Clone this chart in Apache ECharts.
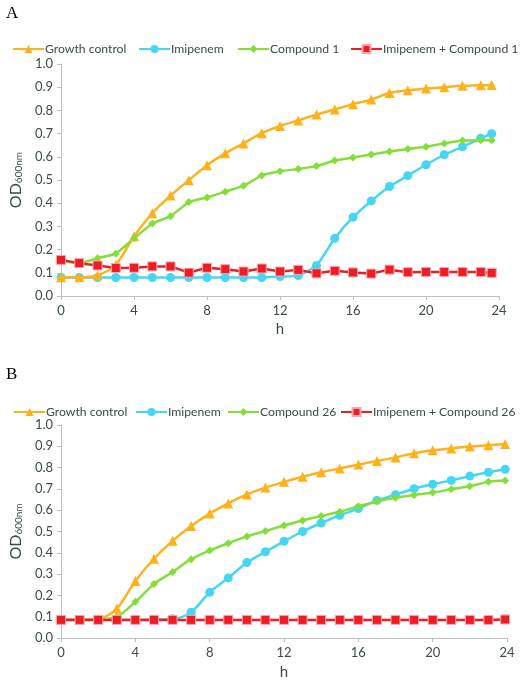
<!DOCTYPE html>
<html>
<head>
<meta charset="utf-8">
<script src="https://cdn.jsdelivr.net/npm/echarts@6/dist/echarts.min.js"></script>
<style>
html,body{margin:0;padding:0;background:#fff;}
#a{position:absolute;left:0;top:0;width:520px;height:342px;}
#b{position:absolute;left:0;top:342px;width:520px;height:343px;}
</style>
</head>
<body>
<div id="a"></div>
<div id="b"></div>
<script>
// ---- Panel A data ----
const hoursA = [0,1,2,3,4,5,6,7,8,9,10,11,12,13,14,15,16,17,18,19,20,21,22,23,23.6];
const growthA = [0.081,0.081,0.09,0.135,0.258,0.357,0.433,0.499,0.564,0.615,0.658,0.702,0.733,0.757,0.782,0.804,0.827,0.847,0.875,0.887,0.894,0.9,0.906,0.908,0.91];
const imipenemA = [0.08,0.08,0.08,0.08,0.08,0.08,0.08,0.08,0.08,0.08,0.08,0.08,0.084,0.088,0.132,0.249,0.34,0.41,0.472,0.519,0.566,0.609,0.643,0.68,0.70];
const compound1A = [0.15,0.142,0.163,0.183,0.249,0.313,0.344,0.405,0.425,0.45,0.475,0.52,0.538,0.548,0.56,0.584,0.597,0.61,0.623,0.634,0.643,0.658,0.67,0.672,0.672];
const comboA = [0.156,0.142,0.132,0.121,0.122,0.128,0.128,0.101,0.122,0.116,0.106,0.119,0.106,0.113,0.098,0.109,0.102,0.097,0.114,0.103,0.104,0.104,0.104,0.104,0.10];
const namesA = ['Growth control','Imipenem','Compound 1','Imipenem + Compound 1'];

// ---- Panel B data ----
const hoursB = [0,1,2,3,4,5,6,7,8,9,10,11,12,13,14,15,16,17,18,19,20,21,22,23,23.9];
const growthB = [0.086,0.086,0.089,0.138,0.268,0.372,0.456,0.526,0.584,0.632,0.674,0.706,0.733,0.757,0.778,0.796,0.814,0.831,0.848,0.867,0.881,0.89,0.899,0.905,0.911];
const imipenemB = [0.086,0.086,0.086,0.086,0.086,0.088,0.09,0.121,0.215,0.282,0.354,0.405,0.454,0.5,0.54,0.576,0.608,0.646,0.673,0.701,0.722,0.74,0.76,0.778,0.792];
const compound26B = [0.086,0.086,0.088,0.1,0.17,0.253,0.31,0.37,0.411,0.445,0.477,0.502,0.528,0.552,0.573,0.593,0.618,0.641,0.658,0.671,0.683,0.698,0.712,0.733,0.739];
const comboB = [0.085,0.085,0.085,0.085,0.085,0.085,0.085,0.085,0.085,0.085,0.085,0.085,0.085,0.085,0.085,0.085,0.085,0.085,0.085,0.085,0.085,0.085,0.085,0.085,0.087];
const namesB = ['Growth control','Imipenem','Compound 26','Imipenem + Compound 26'];

const xTicks = [0,4,8,12,16,20,24];
const yTicks = [0,0.1,0.2,0.3,0.4,0.5,0.6,0.7,0.8,0.9,1.0];

const FONT = 'Lato';
const TXT = '#3d4a4a';
const AX = '#bfbfbf';
const COLORS = ['#FFB11B','#44D6F2','#84DE38','#EE1C25'];
const SYMBOLS = ['triangle','circle','diamond','rect'];
const SIZES = [10,9,8,9];

function pairs(xs, ys){ return xs.map((x,i)=>[x, ys[i]]); }

function makeOption(label, hours, seriesVals, names, L){
  return {
    animation:false,
    backgroundColor:'#fff',
    title:{text:label,left:L.titleLeft,top:L.titleTop,textStyle:{fontFamily:'Liberation Serif',fontSize:17,fontWeight:'normal',color:'#000'}},
    legend: names.map((n,i)=>({
      data:[n], left:L.legendLefts[i], top:L.legendTop, padding:0,
      itemWidth:31, itemHeight:10, selectedMode:false,
      textStyle:{fontFamily:FONT,fontSize:12.2,color:TXT,padding:[0,0,0,-4]}
    })),
    grid:{left:L.gl, top:L.gt, width:L.gw, height:L.gh, containLabel:false},
    xAxis:{
      type:'value', min:xTicks[0], max:xTicks[xTicks.length-1], interval:4,
      name:'h', nameLocation:'middle', nameGap:L.xNameGap,
      nameTextStyle:{fontFamily:FONT,fontSize:15,color:TXT},
      axisLine:{show:true,lineStyle:{color:AX,width:1}},
      axisTick:{show:true,length:4,lineStyle:{color:AX}},
      axisLabel:{fontFamily:FONT,fontSize:13,color:TXT,margin:8},
      splitLine:{show:false}
    },
    yAxis:{
      type:'value', min:yTicks[0], max:yTicks[yTicks.length-1], interval:0.1,
      name:'{a|OD}{b|600nm}', nameLocation:'middle', nameGap:L.yNameGap, nameRotate:90,
      nameTextStyle:{rich:{a:{fontFamily:FONT,fontSize:16,color:TXT},b:{fontFamily:FONT,fontSize:10,color:TXT,verticalAlign:'bottom',padding:[6,0,0,0]}}},
      axisLine:{show:true,lineStyle:{color:AX,width:1}},
      axisTick:{show:true,length:4,lineStyle:{color:AX}},
      axisLabel:{fontFamily:FONT,fontSize:13,color:TXT,margin:8,formatter:v=>v.toFixed(1)},
      splitLine:{show:false}
    },
    series: seriesVals.map((vals,i)=>({
      name:names[i], type:'line', data:pairs(hours, vals),
      symbol:SYMBOLS[i], symbolSize:SIZES[i], showAllSymbol:true,
      smooth:L.smooth[i], z: i===3?5:(i===1?3:4),
      lineStyle:{color:COLORS[i],width:2.5},
      itemStyle:{color:COLORS[i], borderColor: i===3?'#f7a6ad':COLORS[i], borderWidth: i===3?1:0}
    }))
  };
}

const chartA = echarts.init(document.getElementById('a'), null, {renderer:'canvas'});
chartA.setOption(makeOption('A', hoursA, [growthA, imipenemA, compound1A, comboA], namesA, {
  titleLeft:1, titleTop:0, legendLefts:[12,138,237,350], legendTop:43,
  gl:50, gt:64, gw:449, gh:235, xNameGap:22, yNameGap:34,
  smooth:[0.3,0.15,0.1,0]
}));

const chartB = echarts.init(document.getElementById('b'), null, {renderer:'canvas'});
chartB.setOption(makeOption('B', hoursB, [growthB, imipenemB, compound26B, comboB], namesB, {
  titleLeft:1, titleTop:19, legendLefts:[13,135,227,340], legendTop:64,
  gl:51, gt:83, gw:456, gh:221, xNameGap:27, yNameGap:35,
  smooth:[0.3,0.3,0.3,0]
}));
</script>
</body>
</html>
